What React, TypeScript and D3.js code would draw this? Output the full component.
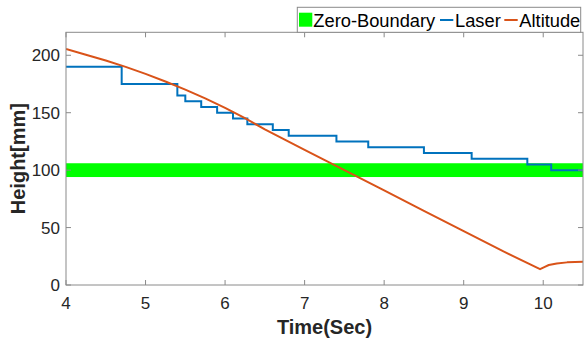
import React from "react";
import * as d3 from "d3";

const xTicks = [4, 5, 6, 7, 8, 9, 10];
const yTicks = [0, 50, 100, 150, 200];

const laserTime = [4, 4.7, 5.4, 5.5, 5.7, 5.9, 6.1, 6.28, 6.6, 6.8, 7.4, 7.8, 8.5, 9.1, 9.8, 10.1, 10.5];
const laserHeight = [190, 175, 165, 160, 155, 150, 145, 140, 135, 130, 125, 120, 115, 110, 105, 100, 100];

const altTime = [4, 4.25, 4.5, 4.75, 5, 5.25, 5.5, 5.75, 6, 6.25, 6.5, 7, 7.5, 8, 8.5, 9, 9.5, 9.96, 10.02, 10.07, 10.17, 10.3, 10.4, 10.5];
const altHeight = [205.5, 200.5, 195.5, 189.9, 183.8, 177.2, 170.1, 162.4, 154.2, 145.3, 135.4, 117.7, 100.0, 82.3, 64.6, 46.9, 29.2, 13.8, 15.8, 17.4, 18.8, 19.7, 20.1, 20.3];

const bandLow = [94];
const bandHigh = [106];

const legendLabels = ["Zero-Boundary", "Laser", "Altitude"];

const W = 584;
const H = 342;
const left = 66;
const right = 583;
const top = 32.3;
const bottom = 285;

const BLUE = "#0072BD";
const ORANGE = "#D95319";
const GREEN = "#00FF00";
const AXIS = "#8a8a8a";
const TEXT = "#262626";
const FONT = "'Liberation Sans', Arial, sans-serif";

export default function App() {
  const x = d3.scaleLinear().domain([4, 10.5]).range([left, right]);
  const y = d3.scaleLinear().domain([0, 220]).range([bottom, top]);

  const laserData = laserTime.map((t, i) => [t, laserHeight[i]] as [number, number]);
  const altData = altTime.map((t, i) => [t, altHeight[i]] as [number, number]);

  const laserPath = d3
    .line<[number, number]>()
    .x((d) => x(d[0]))
    .y((d) => y(d[1]))
    .curve(d3.curveStepAfter)(laserData) as string;

  const altPath = d3
    .line<[number, number]>()
    .x((d) => x(d[0]))
    .y((d) => y(d[1]))
    .curve(d3.curveLinear)(altData) as string;

  const tickLen = 5;

  return (
    <svg
      width={W}
      height={H}
      style={{ position: "absolute", left: 0, top: 0, background: "#fff" }}
      fontFamily={FONT}
    >
      <defs>
        <clipPath id="plotclip">
          <rect x={left} y={top} width={right - left} height={bottom - top} />
        </clipPath>
      </defs>
      <rect x={0} y={0} width={W} height={H} fill="#fff" />

      <g clipPath="url(#plotclip)">
        <rect
          x={x(4)}
          y={y(bandHigh[0])}
          width={x(10.5) - x(4)}
          height={y(bandLow[0]) - y(bandHigh[0])}
          fill={GREEN}
        />
        <path d={laserPath} fill="none" stroke={BLUE} strokeWidth={2} />
        <path d={altPath} fill="none" stroke={ORANGE} strokeWidth={2} strokeLinejoin="round" />
      </g>

      {/* axes box */}
      <rect x={left} y={top} width={right - left} height={bottom - top} fill="none" stroke={AXIS} strokeWidth={1} />

      {xTicks.map((t) => (
        <g key={"xt" + t}>
          <line x1={x(t)} x2={x(t)} y1={bottom} y2={bottom - tickLen} stroke={AXIS} />
          <line x1={x(t)} x2={x(t)} y1={top} y2={top + tickLen} stroke={AXIS} />
          <text x={x(t)} y={309} textAnchor="middle" fontSize={17} fill={TEXT}>
            {t}
          </text>
        </g>
      ))}
      {yTicks.map((v) => (
        <g key={"yt" + v}>
          <line x1={left} x2={left + tickLen} y1={y(v)} y2={y(v)} stroke={AXIS} />
          <line x1={right} x2={right - tickLen} y1={y(v)} y2={y(v)} stroke={AXIS} />
          <text x={60} y={y(v) + 6} textAnchor="end" fontSize={17} fill={TEXT}>
            {v}
          </text>
        </g>
      ))}

      <text x={(left + right) / 2} y={334} textAnchor="middle" fontSize={20} fontWeight="bold" fill={TEXT}>
        Time(Sec)
      </text>
      <text
        transform={`translate(25, ${(top + bottom) / 2}) rotate(-90)`}
        textAnchor="middle"
        fontSize={20}
        fontWeight="bold"
        fill={TEXT}
      >
        Height[mm]
      </text>

      {/* legend */}
      <g>
        <rect x={297.3} y={7.3} width={283.4} height={25} fill="#fff" stroke={AXIS} strokeWidth={1} />
        <rect x={299} y={12.7} width={13.3} height={14} fill={GREEN} />
        <text x={313.3} y={26.5} fontSize={18.3} fill="#000">
          {legendLabels[0]}
        </text>
        <line x1={440} x2={453.3} y1={20} y2={20} stroke={BLUE} strokeWidth={2} />
        <text x={455} y={26.5} fontSize={18.3} fill="#000">
          {legendLabels[1]}
        </text>
        <line x1={504.3} x2={517.7} y1={20} y2={20} stroke={ORANGE} strokeWidth={2} />
        <text x={519.3} y={26.5} fontSize={18.3} fill="#000">
          {legendLabels[2]}
        </text>
      </g>
    </svg>
  );
}
